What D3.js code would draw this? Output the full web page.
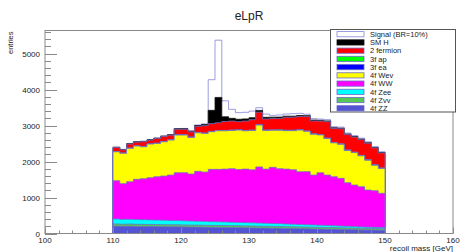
<!DOCTYPE html>
<html>
<head>
<meta charset="utf-8">
<script src="https://cdn.jsdelivr.net/npm/d3@7"></script>
<style>
  body { margin: 0; background: #fff; }
  text { font-family: "Liberation Sans", Arial, sans-serif; fill: #222; }
</style>
</head>
<body>
<svg width="460" height="252"></svg>
<script>

// bin low edges, 1 GeV bins from 110 to 150
var bins = d3.range(110, 150, 1)

var zz   = [205, 200, 202, 198, 196, 195, 192, 190, 188, 186, 183, 180, 178, 176, 172, 170, 168, 165, 162, 160,
            156, 153, 150, 147, 144, 140, 137, 134, 130, 127, 124, 120, 116, 112, 108, 104, 100, 97, 94, 90]
var zvv  = [60, 58, 60, 58, 58, 57, 57, 56, 56, 56, 55, 55, 55, 54, 54, 54, 53, 53, 53, 52,
            52, 52, 51, 51, 51, 50, 50, 50, 49, 49, 48, 48, 48, 47, 47, 46, 46, 45, 45, 45]
var zee  = [140, 135, 132, 130, 128, 126, 124, 122, 118, 116, 114, 112, 110, 106, 102, 100, 98, 95, 92, 90,
            88, 85, 82, 80, 78, 74, 72, 68, 65, 62, 58, 55, 52, 48, 45, 42, 38, 35, 32, 30]
var ww   = [1062, 992, 1045, 1119, 1140, 1172, 1205, 1229, 1263, 1331, 1337, 1306, 1385, 1372, 1455, 1459, 1471, 1487, 1473, 1488,
            1474, 1560, 1507, 1562, 1527, 1526, 1511, 1465, 1476, 1387, 1459, 1402, 1362, 1326, 1211, 1155, 1116, 1031, 1018, 952]
var wev  = [805, 843, 928, 925, 889, 936, 927, 953, 972, 1047, 1047, 1019, 1072, 1075, 1046, 1073, 1066, 1065, 1095, 1066,
            1095, 1164, 1075, 1030, 1070, 1070, 1090, 1158, 1120, 1135, 1051, 1015, 942, 947, 899, 903, 860, 832, 711, 693]
var ea3f = [5, 5, 6, 5, 6, 6, 5, 6, 6, 7, 6, 6, 7, 6, 7, 7, 6, 7, 7, 7,
            7, 8, 7, 7, 8, 7, 8, 8, 7, 8, 8, 8, 7, 8, 8, 8, 8, 7, 8, 8]
var ap3f = [3, 3, 3, 3, 4, 3, 3, 4, 3, 4, 4, 3, 4, 4, 4, 4, 3, 4, 4, 4,
            4, 4, 4, 4, 4, 4, 4, 4, 4, 4, 4, 5, 4, 4, 5, 4, 4, 5, 4, 4]
var f2   = [110, 92, 110, 102, 130, 100, 126, 135, 126, 150, 152, 145, 170, 205, 214, 211, 250, 251, 224, 259,
            289, 348, 309, 314, 318, 359, 360, 366, 399, 358, 373, 457, 389, 418, 427, 418, 438, 458, 468, 418]
var smh  = [8, 8, 9, 9, 10, 10, 11, 12, 12, 14, 15, 18, 22, 30, 370, 705, 130, 75, 66, 60,
            55, 48, 45, 40, 36, 32, 30, 28, 26, 24, 22, 20, 18, 17, 16, 15, 14, 13, 12, 12]
var sig  = [2, 2, 2, 3, 3, 3, 4, 4, 5, 6, 8, 10, 14, 20, 852, 1592, 444, 250, 184, 183,
            183, 75, 92, 50, 60, 60, 70, 60, 40, 40, 35, 35, 30, 30, 28, 28, 25, 25, 22, 22]

// bottom to top
var keys   = ["zz", "zvv", "zee", "ww", "wev", "ea3f", "ap3f", "f2", "smh", "sig"]
var labels = {sig: "Signal (BR=10%)", smh: "SM H", f2: "2 fermion", ap3f: "3f ap", ea3f: "3f ea",
              wev: "4f Wev", ww: "4f WW", zee: "4f Zee", zvv: "4f Zvv", zz: "4f ZZ"}
var series = {zz: zz, zvv: zvv, zee: zee, ww: ww, wev: wev, ea3f: ea3f, ap3f: ap3f, f2: f2, smh: smh, sig: sig}

var xTicks = [100, 110, 120, 130, 140, 150, 160]
var yTicks = [0, 1000, 2000, 3000, 4000, 5000]

var fills = {sig: "#ffffff", smh: "#000000", f2: "#ff0000", ap3f: "#00ff00", ea3f: "#0000ff",
             wev: "#ffff00", ww: "#ff00ff", zee: "#00ffff", zvv: "#55c855", zz: "#5353d4"}
var lines = {sig: "#8484dc", smh: "#111111"}

var svg = d3.select("svg")

// plot frame (avoid the name "top", it is window.top)
var fL = 45, fR = 453, fT = 30.5, fB = 233.5

var x = d3.scaleLinear().domain([100, 160]).range([fL, fR])
var y = d3.scaleLinear().domain([0, 5644]).range([fB, fT])

// rows for stacking, with an extra closing point at 150
var rows = bins.map(function(b, i){
  var r = {x: b}
  keys.forEach(function(k){ r[k] = series[k][i] })
  return r
})
var last = Object.assign({}, rows[rows.length - 1])
last.x = 150
rows.push(last)

var stacked = d3.stack().keys(keys)(rows)

var area = d3.area()
  .curve(d3.curveStepAfter)
  .x(function(d){ return x(d.data.x) })
  .y0(y(0))
  .y1(function(d){ return y(d[1]) })

// draw cumulative histograms from the top layer down, like a THStack
stacked.slice().reverse().forEach(function(layer){
  svg.append("path")
    .datum(layer)
    .attr("d", area)
    .style("fill", fills[layer.key])
    .style("stroke", lines[layer.key] || "#7070c4")
    .style("stroke-width", 0.8)
    .style("stroke-linejoin", "miter")
})

// frame
svg.append("rect")
  .attr("x", fL).attr("y", fT)
  .attr("width", fR - fL).attr("height", fB - fT)
  .style("fill", "none").style("stroke", "#8a8a8a").style("stroke-width", 1)

// y ticks
var yMinor = d3.range(0, 5644, 200)
svg.selectAll(".ymin").data(yMinor).enter().append("line")
  .attr("x1", fL).attr("x2", function(d){ return d % 1000 == 0 ? fL + 12 : fL + 6 })
  .attr("y1", function(d){ return Math.round(y(d)) + 0.5 })
  .attr("y2", function(d){ return Math.round(y(d)) + 0.5 })
  .style("stroke", "#8a8a8a").style("stroke-width", 1)

svg.selectAll(".ylab").data(yTicks).enter().append("text")
  .attr("x", fL - 5)
  .attr("y", function(d){ return y(d) + 3 })
  .attr("text-anchor", "end")
  .style("font-size", "8px")
  .text(function(d){ return d })

// x ticks
var xMinor = d3.range(100, 160.1, 2)
svg.selectAll(".xmin").data(xMinor).enter().append("line")
  .attr("x1", function(d){ return Math.round(x(d)) + 0.5 })
  .attr("x2", function(d){ return Math.round(x(d)) + 0.5 })
  .attr("y1", fB)
  .attr("y2", function(d){ return d % 10 == 0 ? fB - 6 : fB - 3 })
  .style("stroke", "#8a8a8a").style("stroke-width", 1)

svg.selectAll(".xlab").data(xTicks).enter().append("text")
  .attr("x", function(d){ return x(d) })
  .attr("y", 243)
  .attr("text-anchor", "middle")
  .style("font-size", "8px")
  .text(function(d){ return d })

// titles
svg.append("text").attr("x", 249).attr("y", 19.5).attr("text-anchor", "middle")
  .style("font-size", "12px").text("eLpR")

svg.append("text").attr("x", fR).attr("y", 251).attr("text-anchor", "end")
  .style("font-size", "8px").text("recoil mass [GeV]")

svg.append("text").attr("transform", "translate(13,31.5) rotate(-90)").attr("text-anchor", "end")
  .style("font-size", "7.5px").text("entries")

// legend
var lg = svg.append("g")
lg.append("rect").attr("x", 330.5).attr("y", 29.5).attr("width", 125).attr("height", 82.5)
  .style("fill", "#fff").style("stroke", "#555").style("stroke-width", 1)

var legendKeys = keys.slice().reverse()
var ly = d3.scalePoint().domain(legendKeys).range([34.2, 108.3])

lg.selectAll(".sw").data(legendKeys).enter().append("rect")
  .attr("x", 337).attr("y", function(d){ return ly(d) - 2.6 })
  .attr("width", 27).attr("height", 5.2)
  .style("fill", function(d){ return fills[d] })
  .style("stroke", function(d){ return lines[d] || "#6a6acc" })
  .style("stroke-width", 0.8)

lg.selectAll(".lt").data(legendKeys).enter().append("text")
  .attr("x", 370).attr("y", function(d){ return ly(d) + 2.7 })
  .style("font-size", "7.5px")
  .text(function(d){ return labels[d] })

</script>
</body>
</html>
